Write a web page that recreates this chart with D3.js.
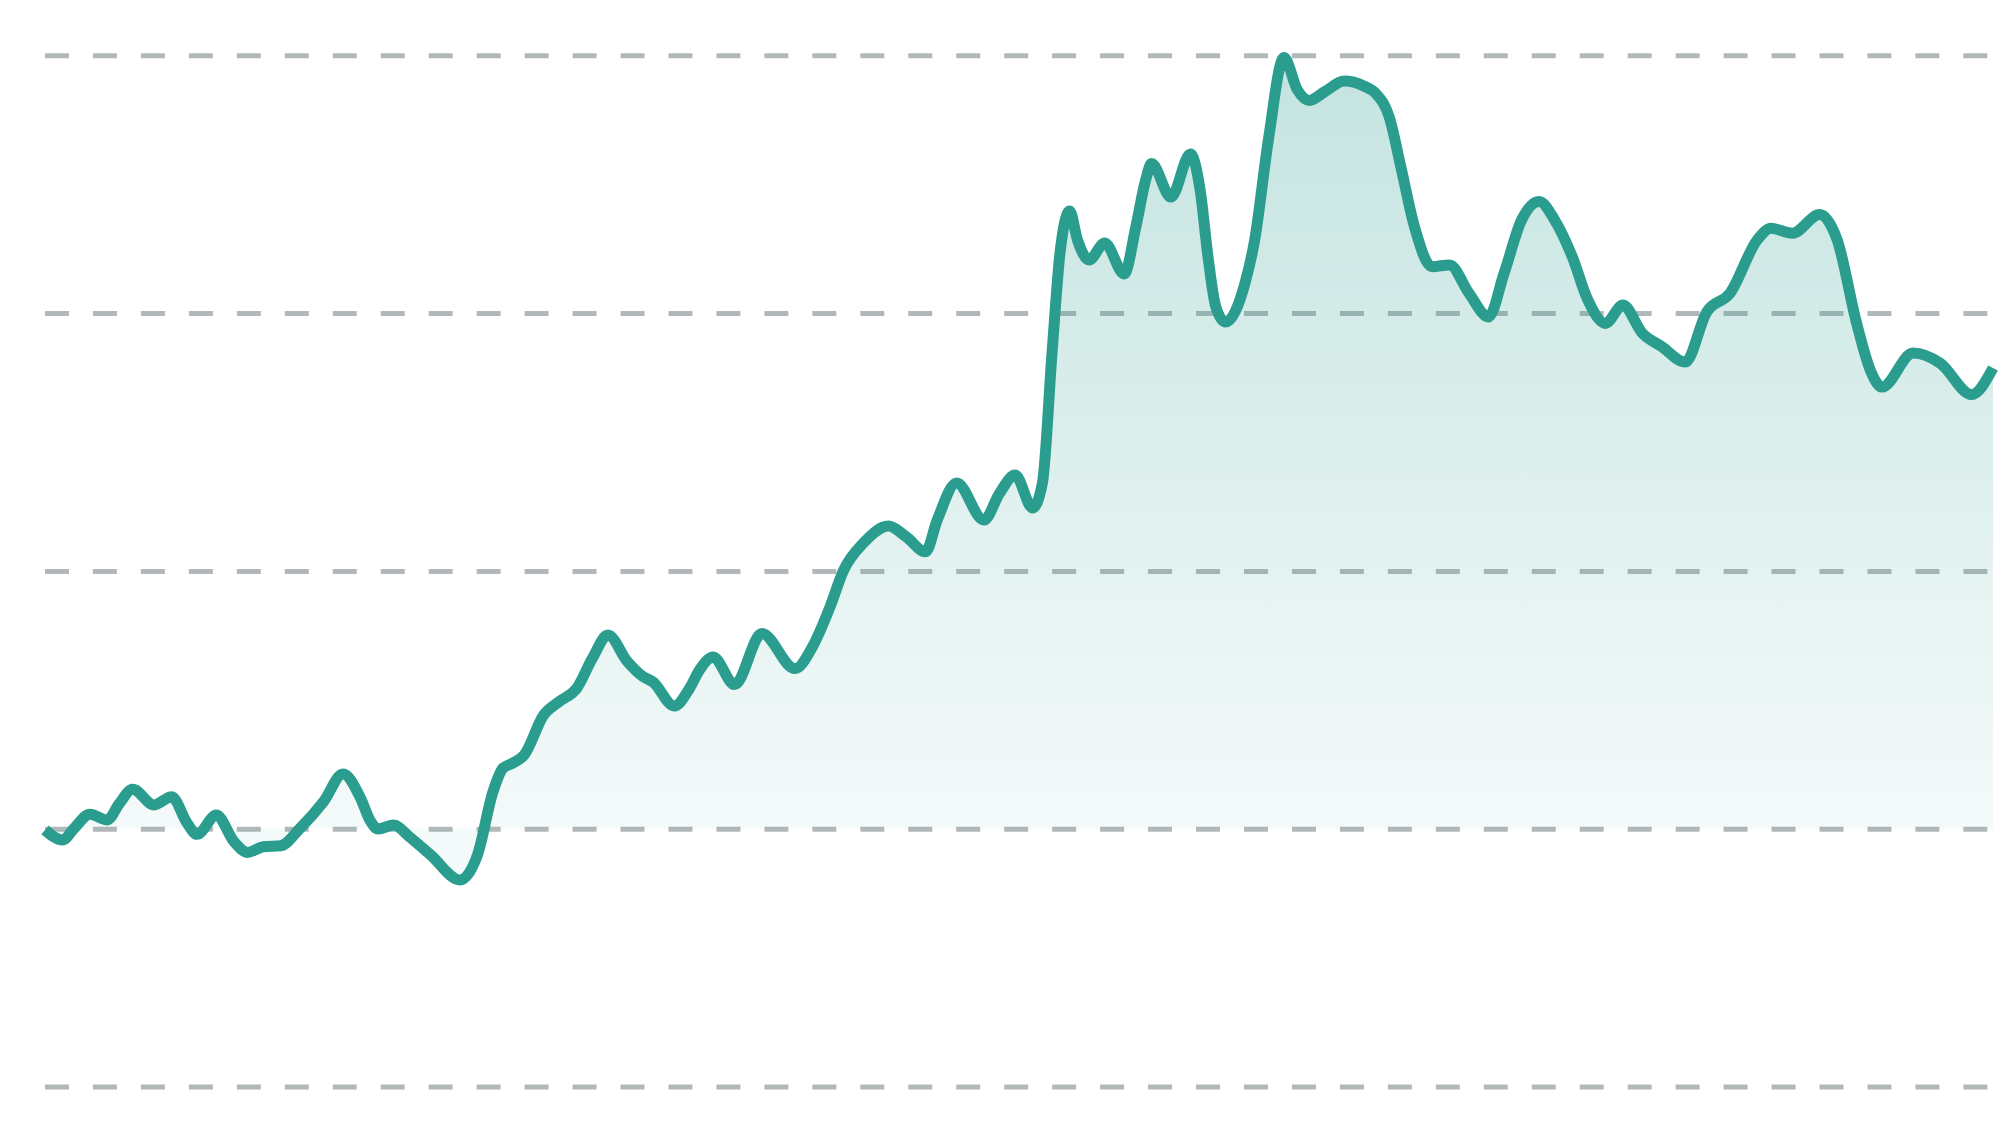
<!DOCTYPE html>
<html>
<head>
<meta charset="utf-8">
<script src="https://cdn.jsdelivr.net/npm/d3@7"></script>
<style>
  html, body { margin: 0; padding: 0; background: #ffffff; }
  svg { display: block; }
</style>
</head>
<body>
<div id="chart"></div>
<script>
// ---- data (time in minutes of the session, value in %) ----
const minutes = [0, 9, 15, 23, 32, 38, 45, 56, 65, 73, 78, 88, 97, 104, 112, 121, 131, 143, 153, 162,
  167, 171, 179, 187, 198, 213, 222, 230, 235, 240, 246, 256, 264, 273, 281, 289, 299, 307, 312, 323,
  331, 336, 343, 354, 368, 385, 394, 403, 410, 420, 433, 442, 452, 458, 468, 482, 490, 498, 507,
  512, 517, 521, 526, 530, 536, 544, 554, 560, 565, 568, 578, 588, 593, 597, 601, 606, 616, 621, 628,
  636, 643, 649, 657, 667, 677, 683, 690, 696, 703, 712, 721, 731, 741, 749, 758, 767, 775, 784, 792,
  801, 810, 820, 830, 842, 853, 865, 879, 886, 897, 911, 920, 930, 937, 943, 959, 973, 989, 1000];

const values = [-0.05, -0.44, 0.02, 0.56, 0.34, 0.96, 1.53, 0.92, 1.24, 0.21, -0.22, 0.53, -0.50, -0.92, -0.70, -0.66, 0.02, 1.05, 2.12, 1.18,
  0.30, -0.01, 0.14, -0.31, -1.02, -1.99, -1.02, 1.44, 2.34, 2.54, 2.86, 4.41, 4.93, 5.45, 6.61, 7.51, 6.48, 5.90, 5.70, 4.76,
  5.46, 6.16, 6.66, 5.59, 7.57, 6.21, 7.06, 8.61, 10.03, 11.07, 11.74, 11.33, 10.74, 11.97, 13.41, 11.97, 13.01, 13.72, 12.44,
  13.4, 18.5, 22.3, 23.96, 22.84, 22.06, 22.72, 21.52, 23.35, 25.16, 25.80, 24.50, 26.17, 24.77, 22.19, 20.25, 19.65, 21.16, 22.84, 26.71,
  29.91, 28.65, 28.25, 28.59, 29.00, 28.81, 28.53, 27.62, 25.68, 23.35, 21.80, 21.87, 20.77, 19.85, 21.54, 23.61, 24.33, 23.61, 22.19, 20.51,
  19.60, 20.31, 19.22, 18.70, 18.10, 20.04, 20.77, 22.84, 23.29, 23.10, 23.82, 22.84, 19.60, 17.79, 17.13, 18.45, 18.05, 16.84, 17.87];

const gridTicks = [-10, 0, 10, 20, 30];

if (minutes.length !== values.length) console.error("length mismatch", minutes.length, values.length);

// ---- layout ----
const W = 2014, H = 1126;
const margin = { left: 45, right: 21, top: 55.3, bottom: 39.5 };
const lineColor = "#2a9d8f";
const gridColor = "#b2b8ba";

const data = minutes.map((m, i) => ({ t: m, v: values[i] }));

const x = d3.scaleLinear().domain([0, 1000]).range([margin.left, W - margin.right]);
const y = d3.scaleLinear().domain([-10, 30]).range([H - margin.bottom, margin.top]);

const svg = d3.select("#chart").append("svg")
  .attr("width", W).attr("height", H)
  .attr("viewBox", `0 0 ${W} ${H}`);

const defs = svg.append("defs");
const grad = defs.append("linearGradient")
  .attr("id", "fillGrad")
  .attr("gradientUnits", "userSpaceOnUse")
  .attr("x1", 0).attr("x2", 0)
  .attr("y1", y(30)).attr("y2", y(0));
grad.append("stop").attr("offset", 0).attr("stop-color", lineColor).attr("stop-opacity", 0.28);
grad.append("stop").attr("offset", 1).attr("stop-color", lineColor).attr("stop-opacity", 0.05);

// gridlines
const yAxis = d3.axisLeft(y).tickValues(gridTicks)
  .tickSize(-(W - margin.left - margin.right)).tickFormat("");
const gAxis = svg.append("g").attr("transform", `translate(${margin.left},0)`).call(yAxis);
gAxis.select(".domain").remove();
gAxis.selectAll(".tick line")
  .attr("stroke", gridColor)
  .attr("stroke-width", 5)
  .attr("stroke-dasharray", "23.98 23.98");

// area
const area = d3.area()
  .x(d => x(d.t))
  .y0(y(0))
  .y1(d => y(d.v))
  .curve(d3.curveMonotoneX);

svg.append("path")
  .datum(data)
  .attr("d", area)
  .attr("fill", "url(#fillGrad)");

// line
const line = d3.line()
  .x(d => x(d.t))
  .y(d => y(d.v))
  .curve(d3.curveMonotoneX);

svg.append("path")
  .datum(data)
  .attr("d", line)
  .attr("fill", "none")
  .attr("stroke", lineColor)
  .attr("stroke-width", 11)
  .attr("stroke-linejoin", "round");
</script>
</body>
</html>
